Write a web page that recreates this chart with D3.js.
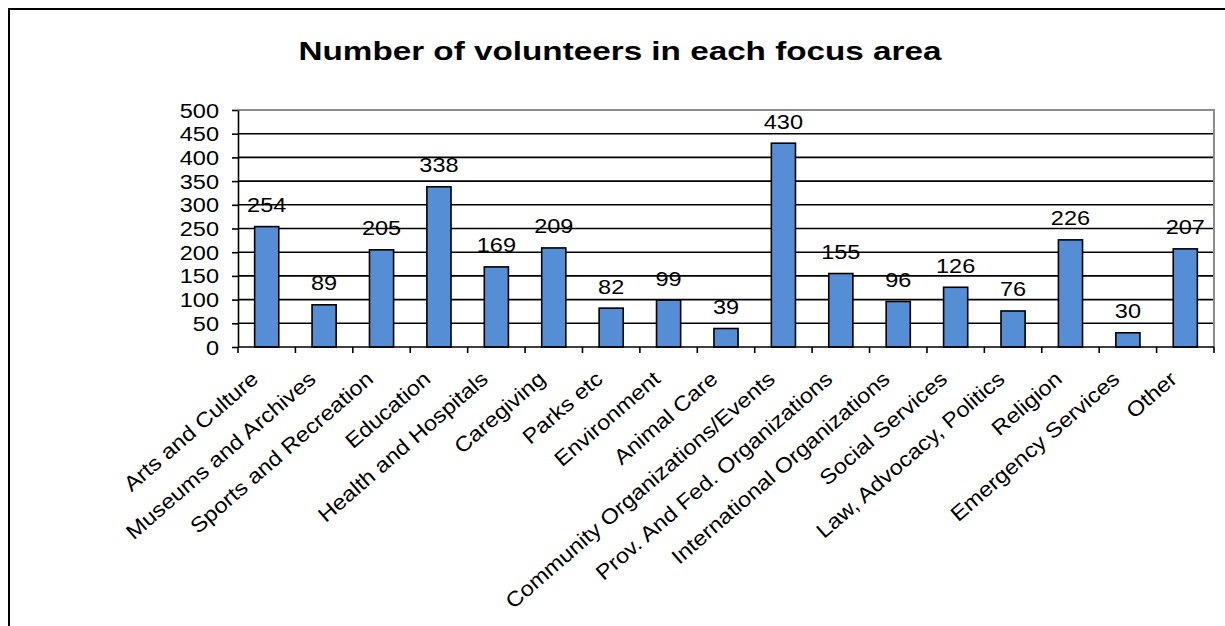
<!DOCTYPE html>
<html>
<head>
<meta charset="utf-8">
<script src="https://cdn.jsdelivr.net/npm/d3@7"></script>
<style>
  html, body { margin: 0; padding: 0; background: #fff; }
  svg { display: block; font-family: "Liberation Sans", Arial, sans-serif; }
</style>
</head>
<body>
<svg id="chart" width="1225" height="626"></svg>
<script>
const title = "Number of volunteers in each focus area";
const categories = ["Arts and Culture","Museums and Archives","Sports and Recreation","Education","Health and Hospitals","Caregiving","Parks etc","Environment","Animal Care","Community Organizations/Events","Prov. And Fed. Organizations","International Organizations","Social Services","Law, Advocacy, Politics","Religion","Emergency Services","Other"];
const values = [254,89,205,338,169,209,82,99,39,430,155,96,126,76,226,30,207];
const yTicks = [0,50,100,150,200,250,300,350,400,450,500];

(function () {
const svg = d3.select("#chart");
const pLeft = 238, pRight = 1214, pTop = 110, pBottom = 347;
const SX = 1.12, FS = 21;

// outer border
svg.append("rect").attr("x", 9).attr("y", 9).attr("width", 1230).attr("height", 640)
  .attr("fill", "#fff").attr("stroke", "#000").attr("stroke-width", 2);

const x = d3.scaleBand().domain(categories).range([pLeft, pRight]).padding(0);
const y = d3.scaleLinear().domain([0, 500]).range([pBottom, pTop]);

// gridlines
svg.append("g").selectAll("line").data(yTicks.filter(t => t > 0 && t < 500)).join("line")
  .attr("x1", pLeft).attr("x2", pRight).attr("y1", d => y(d)).attr("y2", d => y(d))
  .attr("stroke", "#000").attr("stroke-width", 1.6);

// plot border top/right (gray)
svg.append("path")
  .attr("d", `M${pLeft},${y(500)}H${pRight}V${pBottom}`)
  .attr("fill", "none").attr("stroke", "#8c8c8c").attr("stroke-width", 2);

// bars
const bw = x.bandwidth() * 0.42;
svg.append("g").selectAll("rect").data(values).join("rect")
  .attr("x", (d, i) => x(categories[i]) + x.bandwidth() / 2 - bw / 2)
  .attr("y", d => y(d))
  .attr("width", bw)
  .attr("height", d => y(0) - y(d))
  .attr("fill", "#558ed5").attr("stroke", "#000").attr("stroke-width", 1.6);

// y axis
const yAxis = d3.axisLeft(y).tickValues(yTicks).tickSize(6).tickSizeOuter(0).tickFormat("");
const gy = svg.append("g").attr("transform", `translate(${pLeft},0)`).call(yAxis);
gy.select(".domain").attr("stroke", "#000").attr("stroke-width", 1.6);
gy.selectAll(".tick line").attr("stroke", "#000").attr("stroke-width", 1.6);

svg.append("g").selectAll("text").data(yTicks).join("text")
  .attr("transform", d => `translate(219,${y(d) + 7.5}) scale(${SX},1)`)
  .attr("text-anchor", "end").attr("font-size", FS).attr("fill", "#000")
  .text(d => d);

// x axis line with boundary ticks
const bounds = categories.map(c => x(c)).concat([pRight]);
svg.append("line").attr("x1", pLeft).attr("x2", pRight).attr("y1", pBottom).attr("y2", pBottom)
  .attr("stroke", "#000").attr("stroke-width", 1.6);
svg.append("g").selectAll("line").data(bounds).join("line")
  .attr("x1", d => d).attr("x2", d => d).attr("y1", pBottom).attr("y2", pBottom + 6)
  .attr("stroke", "#000").attr("stroke-width", 1.6);

// x labels rotated
svg.append("g").selectAll("text").data(categories).join("text")
  .attr("transform", d => `translate(${x(d) + x.bandwidth() / 2 - 7},381) rotate(-41) scale(${SX},1)`)
  .attr("text-anchor", "end").attr("font-size", FS).attr("fill", "#000")
  .text(d => d);

// data labels
svg.append("g").selectAll("text").data(values).join("text")
  .attr("transform", (d, i) => `translate(${x(categories[i]) + x.bandwidth() / 2},${y(d) - 14.5}) scale(${SX},1)`)
  .attr("text-anchor", "middle").attr("font-size", FS).attr("fill", "#000")
  .text(d => d);

// title
svg.append("text").attr("x", 620).attr("y", 60)
  .attr("text-anchor", "middle").attr("font-size", 26).attr("font-weight", "bold")
  .attr("textLength", 643).attr("lengthAdjust", "spacingAndGlyphs")
  .text(title);
})();
</script>
</body>
</html>
